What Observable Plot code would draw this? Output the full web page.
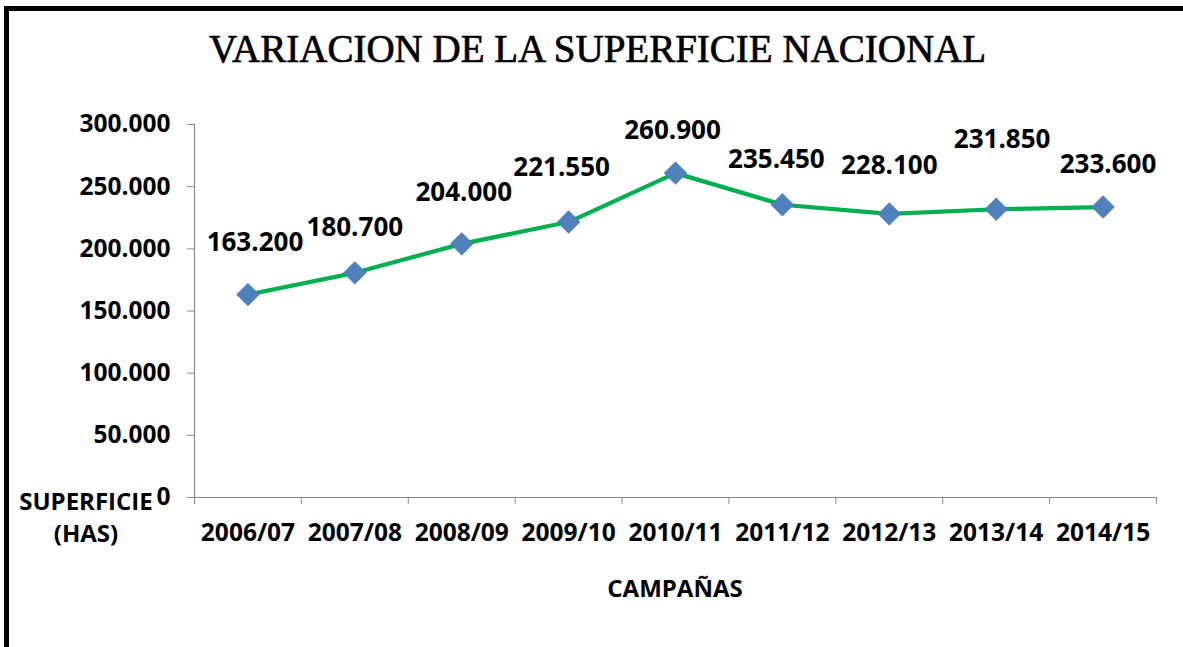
<!DOCTYPE html>
<html>
<head>
<meta charset="utf-8">
<script src="https://cdn.jsdelivr.net/npm/d3@7"></script>
<script src="https://cdn.jsdelivr.net/npm/@observablehq/plot@0.6"></script>
<style>
  html, body { margin: 0; padding: 0; background: #fff; overflow: hidden; }
  #wrap { position: relative; width: 1183px; height: 647px; overflow: hidden; background: #fff; }
  #lineL { position: absolute; left: 4px; top: 6px; width: 5px; height: 641px; background: #000; }
  #lineT { position: absolute; left: 4px; top: 6px; width: 1179px; height: 5px; background: #000; }
  #title { position: absolute; left: 12px; width: 1171px; top: 29px; text-align: center;
           font-family: "Liberation Serif", "Times New Roman", serif; font-size: 39px; line-height: 39px;
           color: #000; white-space: nowrap; -webkit-text-stroke: 0.7px #000; }
  .lab { position: absolute; font-family: "Open Sans", sans-serif; font-weight: 700; font-size: 24px;
         color: #000; text-align: center; white-space: nowrap; }
  #ylab { left: 6px; width: 160px; top: 485px; line-height: 32px; }
  #xlab { left: 575px; width: 200px; top: 576px; line-height: 24px; }
  #chart { position: absolute; left: 0; top: 0; }
</style>
</head>
<body>
<div id="wrap">
  <div id="chart"></div>
  <div id="title">VARIACION DE LA SUPERFICIE NACIONAL</div>
  <div id="ylab" class="lab">SUPERFICIE<br>(HAS)</div>
  <div id="xlab" class="lab">CAMPAÑAS</div>
  <div id="lineL"></div>
  <div id="lineT"></div>
</div>
<script>
const categories = ["2006/07", "2007/08", "2008/09", "2009/10", "2010/11", "2011/12", "2012/13", "2013/14", "2014/15"];
const superficie = [163200, 180700, 204000, 221550, 260900, 235450, 228100, 231850, 233600];
const yTicks = [0, 50000, 100000, 150000, 200000, 250000, 300000];
// label offsets (px) relative to each point, as placed in the original
const labelDx = [7, 0, 2, -7, -3, -6, 0, 6, 5];
const labelDy = [-44, -37, -43, -46, -34, -37, -40, -61, -34];

const locale = d3.formatLocale({decimal: ",", thousands: ".", grouping: [3], currency: ["", ""]});
const fmt = locale.format(",.0f");

const data = categories.map((c, i) => ({i, c, v: superficie[i]}));
const boundaries = d3.range(categories.length + 1).map(i => i - 0.5);

const font = {fontFamily: "Open Sans", fontSize: 24.5, fontWeight: 700};
const labelFont = {fontFamily: "Open Sans", fontSize: 26, fontWeight: 700};
const gray = "#8a8a8a";

const chart = Plot.plot({
  width: 1183,
  height: 647,
  marginTop: 124,
  marginRight: 27,
  marginBottom: 150,
  marginLeft: 194,
  style: {background: "transparent", fontFamily: "Open Sans", fontSize: "24px", fontWeight: 700, color: "#000"},
  x: {type: "linear", domain: [-0.5, categories.length - 0.5]},
  y: {domain: [0, 300000]},
  marks: [
    Plot.ruleY([0], {stroke: gray, strokeWidth: 1.2}),
    Plot.ruleX([-0.5], {stroke: gray, strokeWidth: 1.2}),
    Plot.axisY({ticks: yTicks, tickSize: 7, tickPadding: 17, tickFormat: fmt, stroke: gray, fill: "#000", label: null, ...font}),
    Plot.axisX({ticks: boundaries, tickSize: 7, tickFormat: () => "", stroke: gray, label: null}),
    Plot.axisX({ticks: d3.range(categories.length), tickSize: 0, tickPadding: 26, tickFormat: i => categories[i], fill: "#000", label: null, ...font}),
    Plot.line(data, {x: "i", y: "v", stroke: "#00B050", strokeWidth: 4.2, strokeLinejoin: "round"}),
    Plot.dot(data, {x: "i", y: "v", symbol: "diamond2", r: 10.3, fill: "#4F81BD", stroke: "#4A7EBB", strokeWidth: 0.5}),
    ...data.map((d, k) => Plot.text([d], {x: "i", y: "v", text: d => fmt(d.v), dx: labelDx[k], dy: labelDy[k],
      lineAnchor: "bottom", textAnchor: "middle", fill: "#000", ...labelFont}))
  ]
});
document.getElementById("chart").appendChild(chart);
</script>
</body>
</html>
